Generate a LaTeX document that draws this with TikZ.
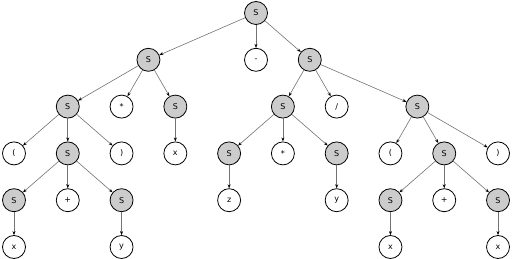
\documentclass[tikz,border=0pt]{standalone}
\usepackage{fontspec}
\setmainfont{DejaVu Sans}
\usetikzlibrary{arrows.meta}
\begin{document}
\begin{tikzpicture}[x=1pt,y=-1pt,
  nt/.style={circle,draw=black,line width=0.8pt,fill=black!20,minimum size=23pt,inner sep=0pt,font=\fontsize{8}{9}\selectfont},
  tm/.style={circle,draw=black,line width=0.8pt,fill=white,minimum size=23pt,inner sep=0pt,font=\fontsize{8}{9}\selectfont},
  e/.style={draw=black!55,line width=0.6pt,-{Stealth[length=4pt,width=3pt,black]}}]
\useasboundingbox (0,0) rectangle (512,259);
\def\u{53.78}
\def\v{46.8}
% level 0
\node[nt] (r) at (14+4.5*\u,13) {S};
% level 1
\node[nt] (a) at (14+2.5*\u,13+\v) {S};
\node[tm] (m) at (14+4.5*\u,13+\v) {-};
\node[nt] (b) at (14+5.5*\u,13+\v) {S};
% level 2
\node[nt] (a1) at (14+1*\u,13+2*\v) {S};
\node[tm] (a2) at (14+2*\u,13+2*\v) {*};
\node[nt] (a3) at (14+3*\u,13+2*\v) {S};
\node[nt] (b1) at (14+5*\u,13+2*\v) {S};
\node[tm] (b2) at (14+6*\u,13+2*\v) {/};
\node[nt] (b3) at (14+7.5*\u,13+2*\v) {S};
% level 3
\node[tm] (a11) at (14+0*\u,13+3*\v) {(};
\node[nt] (a12) at (14+1*\u,13+3*\v) {S};
\node[tm] (a13) at (14+2*\u,13+3*\v) {)};
\node[tm] (a31) at (14+3*\u,13+3*\v) {x};
\node[nt] (b11) at (14+4*\u,13+3*\v) {S};
\node[tm] (b12) at (14+5*\u,13+3*\v) {*};
\node[nt] (b13) at (14+6*\u,13+3*\v) {S};
\node[tm] (b31) at (14+7*\u,13+3*\v) {(};
\node[nt] (b32) at (14+8*\u,13+3*\v) {S};
\node[tm] (b33) at (14+9*\u,13+3*\v) {)};
% level 4
\node[nt] (c1) at (14+0*\u,13+4*\v) {S};
\node[tm] (c2) at (14+1*\u,13+4*\v) {+};
\node[nt] (c3) at (14+2*\u,13+4*\v) {S};
\node[tm] (z) at (14+4*\u,13+4*\v) {z};
\node[tm] (y1) at (14+6*\u,13+4*\v) {y};
\node[nt] (d1) at (14+7*\u,13+4*\v) {S};
\node[tm] (d2) at (14+8*\u,13+4*\v) {+};
\node[nt] (d3) at (14+9*\u,13+4*\v) {S};
% level 5
\node[tm] (x1) at (14+0*\u,13+5*\v) {x};
\node[tm] (y2) at (14+2*\u,13+5*\v) {y};
\node[tm] (x2) at (14+7*\u,13+5*\v) {x};
\node[tm] (x3) at (14+9*\u,13+5*\v) {x};
% edges
\foreach \p/\c in {r/a,r/m,r/b,a/a1,a/a2,a/a3,b/b1,b/b2,b/b3,
  a1/a11,a1/a12,a1/a13,a3/a31,b1/b11,b1/b12,b1/b13,b3/b31,b3/b32,b3/b33,
  a12/c1,a12/c2,a12/c3,b11/z,b13/y1,b32/d1,b32/d2,b32/d3,
  c1/x1,c3/y2,d1/x2,d3/x3}
  \draw[e] (\p) -- (\c);
\end{tikzpicture}
\end{document}
